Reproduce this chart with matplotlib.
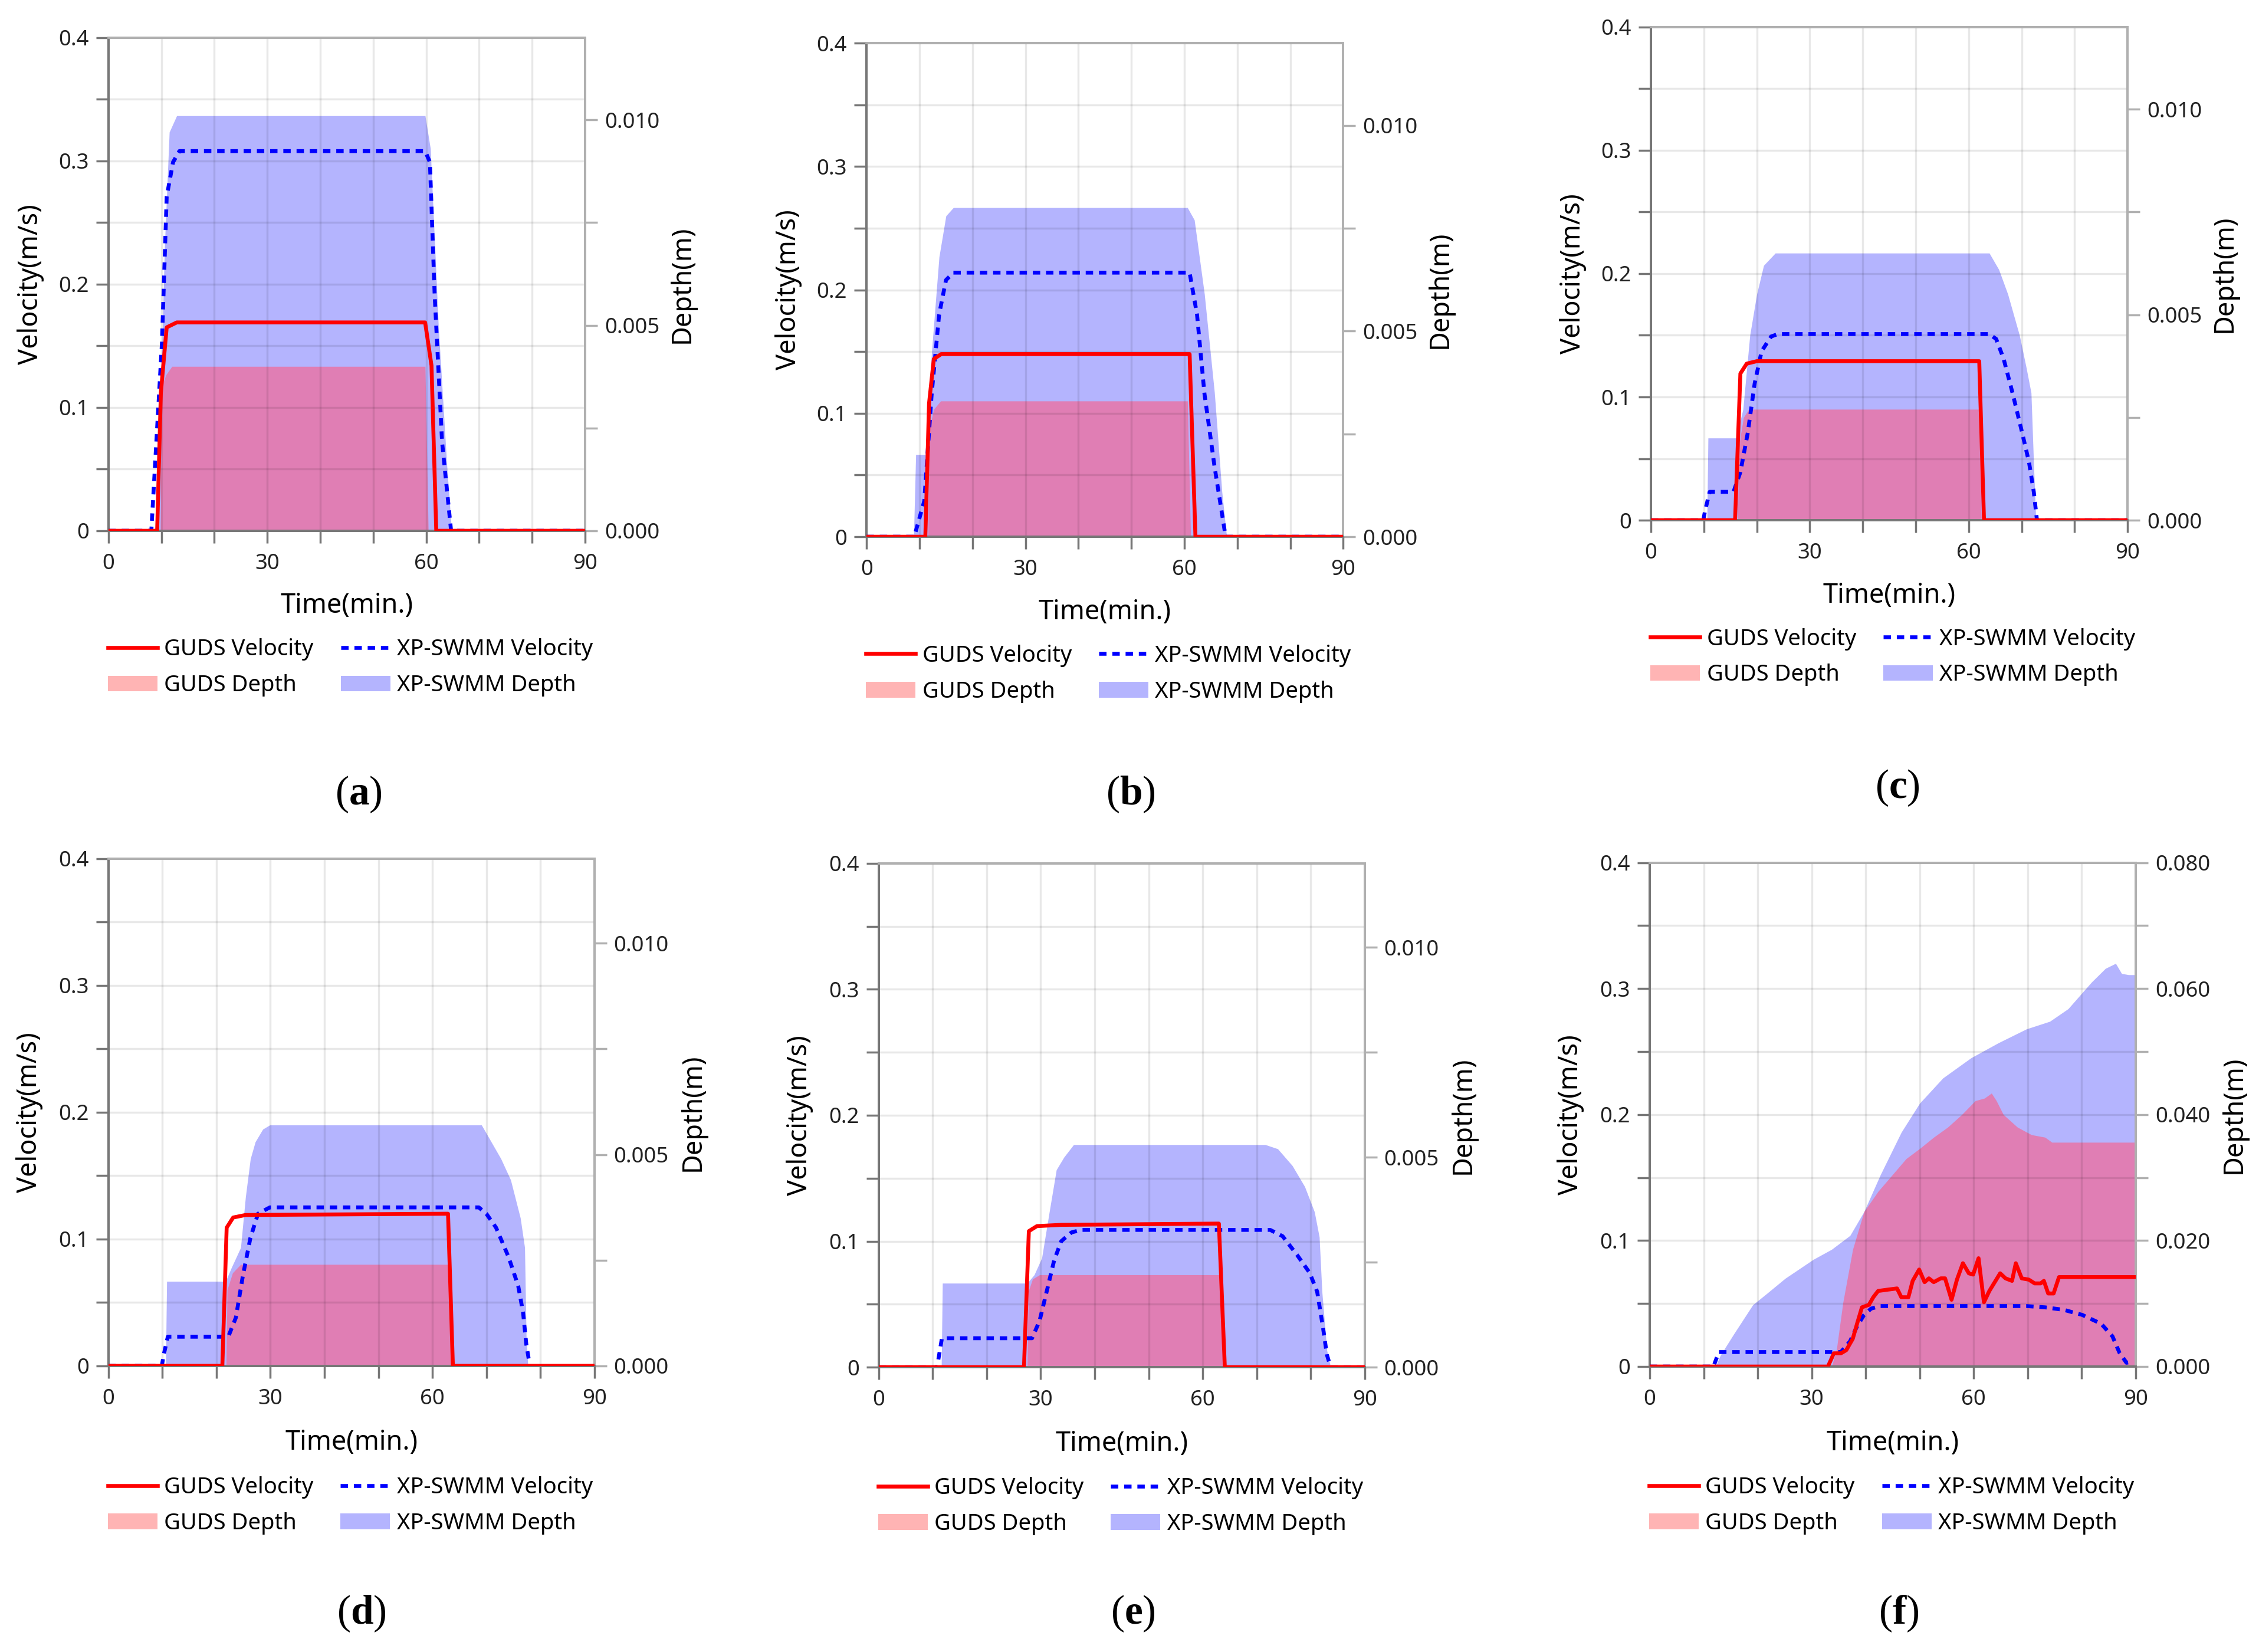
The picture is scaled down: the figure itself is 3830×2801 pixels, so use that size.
import matplotlib
matplotlib.use('Agg')
import matplotlib.pyplot as plt
from matplotlib.ticker import MultipleLocator, FuncFormatter
from matplotlib.lines import Line2D
from matplotlib.patches import Patch

plt.rcParams['font.family'] = ['Noto Sans', 'DejaVu Sans']
plt.rcParams['mathtext.fontset'] = 'custom'
plt.rcParams['mathtext.rm'] = 'Liberation Serif'
plt.rcParams['mathtext.bf'] = 'Liberation Serif:bold'

# ---- data (time in min, velocity in m/s, depth in m) ----
# (a)
a_gv_t = [0, 9.2, 9.9, 11.0, 12.9, 59.8, 61.0, 61.9, 90]
a_gv = [0, 0, 0.112, 0.165, 0.169, 0.169, 0.134, 0, 0]
a_xv_t = [0, 8.1, 10.1, 11.0, 12.2, 13.4, 59.8, 60.7, 61.6, 63.0, 64.7, 90]
a_xv = [0, 0, 0.152, 0.271, 0.299, 0.308, 0.308, 0.299, 0.191, 0.072, 0, 0]
a_gd_t = [0, 9.8, 10.0, 10.9, 12.0, 59.8, 60.4, 90]
a_gd = [0, 0, 0.0035, 0.0038, 0.0040, 0.0040, 0, 0]
a_xd_t = [0, 9.2, 10.6, 11.5, 12.9, 59.8, 60.8, 62.3, 63.9, 64.8, 90]
a_xd = [0, 0, 0.0069, 0.0097, 0.0101, 0.0101, 0.0093, 0.0050, 0.0016, 0, 0]

# (b)
b_gv_t = [0, 11.1, 11.8, 12.7, 14.1, 61.0, 62.1, 90]
b_gv = [0, 0, 0.108, 0.144, 0.148, 0.148, 0, 0]
b_xv_t = [0, 9.0, 10.9, 12.3, 13.7, 15.0, 16.4, 61.0, 62.4, 63.8, 65.7, 67.8, 90]
b_xv = [0, 0, 0.029, 0.116, 0.180, 0.208, 0.214, 0.214, 0.180, 0.116, 0.057, 0, 0]
b_gd_t = [0, 11.6, 11.8, 12.7, 14.0, 60.6, 61.2, 90]
b_gd = [0, 0, 0.0026, 0.0031, 0.0033, 0.0033, 0, 0]
b_xd_t = [0, 8.9, 9.3, 11.1, 12.3, 13.7, 15.0, 16.4, 60.6, 61.9, 63.8, 65.7, 67.1, 68.0, 90]
b_xd = [0, 0, 0.0020, 0.0020, 0.0045, 0.0068, 0.0078, 0.0080, 0.0080, 0.0077,
        0.0059, 0.0035, 0.0011, 0, 0]

# (c)
c_gv_t = [0, 15.9, 16.9, 18.1, 20.0, 62.0, 62.9, 90]
c_gv = [0, 0, 0.119, 0.127, 0.129, 0.129, 0, 0]
c_xv_t = [0, 9.9, 10.2, 11.1, 15.6, 16.9, 18.3, 19.6, 20.9, 22.7, 24.0, 63.9, 65.2,
          66.6, 68.3, 70.1, 71.4, 72.3, 72.9, 90]
c_xv = [0, 0, 0.007, 0.023, 0.023, 0.039, 0.071, 0.111, 0.137, 0.149, 0.151, 0.151,
        0.147, 0.131, 0.103, 0.071, 0.047, 0.023, 0, 0]
c_gd_t = [0, 16.4, 16.6, 17.5, 18.5, 62.0, 62.4, 90]
c_gd = [0, 0, 0.0018, 0.0025, 0.0027, 0.0027, 0, 0]
c_xd_t = [0, 10.6, 10.8, 16.1, 17.4, 18.7, 20.0, 21.3, 23.5, 63.9, 65.7, 67.4, 69.6,
          70.9, 71.8, 72.3, 72.7, 90]
c_xd = [0, 0, 0.0020, 0.0020, 0.0027, 0.0045, 0.0055, 0.0062, 0.0065, 0.0065, 0.0061,
        0.0055, 0.0045, 0.0037, 0.0031, 0.0013, 0, 0]

# (d)
d_gv_t = [0, 21.1, 21.9, 23.1, 25.4, 62.9, 63.8, 90]
d_gv = [0, 0, 0.109, 0.117, 0.119, 0.120, 0, 0]
d_xv_t = [0, 9.9, 10.2, 11.0, 22.2, 23.6, 24.9, 26.3, 27.7, 29.9, 68.6, 70.0, 71.8,
          74.1, 75.9, 76.8, 77.4, 77.9]
d_xv = [0, 0, 0.008, 0.023, 0.023, 0.038, 0.071, 0.101, 0.120, 0.125, 0.125, 0.120,
        0.109, 0.086, 0.063, 0.042, 0.017, 0.004]
d_gd_t = [0, 21.8, 22.0, 23.0, 24.5, 63.1, 63.6, 90]
d_gd = [0, 0, 0.0018, 0.0022, 0.0024, 0.0024, 0, 0]
d_xd_t = [0, 10.6, 10.8, 21.7, 22.7, 24.5, 25.4, 26.3, 27.2, 28.6, 29.9, 69.1, 70.9,
          72.7, 74.5, 76.3, 77.1, 77.4, 77.7, 90]
d_xd = [0, 0, 0.0020, 0.0020, 0.0023, 0.0028, 0.0040, 0.0049, 0.0053, 0.0056, 0.0057,
        0.0057, 0.0053, 0.0049, 0.0044, 0.0035, 0.0028, 0.0006, 0, 0]

# (e)
e_gv_t = [0, 26.9, 27.8, 29.3, 33.8, 63.0, 64.1, 90]
e_gv = [0, 0, 0.108, 0.112, 0.113, 0.114, 0, 0]
e_xv_t = [0, 10.8, 11.7, 28.4, 29.8, 31.1, 32.5, 33.8, 35.7, 37.5, 72.5, 74.8, 77.5,
          79.8, 81.2, 82.3, 83.0, 83.7, 90]
e_xv = [0, 0, 0.023, 0.023, 0.037, 0.060, 0.085, 0.100, 0.107, 0.109, 0.109, 0.104,
        0.089, 0.075, 0.060, 0.031, 0.010, 0, 0]
e_gd_t = [0, 27.5, 27.7, 28.5, 29.8, 63.1, 63.7, 90]
e_gd = [0, 0, 0.0018, 0.0021, 0.0022, 0.0022, 0, 0]
e_xd_t = [0, 11.6, 11.8, 27.5, 28.8, 30.2, 31.6, 32.9, 34.3, 36.1, 38.0, 71.6, 73.9,
          76.6, 78.9, 80.7, 81.6, 82.1, 83.0, 83.7, 90]
e_xd = [0, 0, 0.0020, 0.0020, 0.0022, 0.0026, 0.0037, 0.0047, 0.0050, 0.0053, 0.0053,
        0.0053, 0.0052, 0.0048, 0.0043, 0.0037, 0.0031, 0.0018, 0.0004, 0, 0]

# (f)
f_gv_t = [0, 33.0, 34.1, 35.4, 36.4, 37.6, 38.4, 39.3, 40.6, 41.4, 42.3, 44.0, 45.8,
          46.6, 47.9, 48.7, 49.9, 50.9, 51.7, 52.6, 53.9, 54.7, 55.9, 56.9, 58.0,
          59.1, 59.9, 60.9, 61.9, 62.9, 64.9, 65.9, 67.1, 67.8, 68.9, 70.2, 71.3,
          72.4, 73.0, 73.8, 74.8, 75.8, 90]
f_gv = [0, 0, 0.0105, 0.0105, 0.013, 0.022, 0.034, 0.047, 0.049, 0.055, 0.060, 0.061,
        0.062, 0.055, 0.055, 0.068, 0.077, 0.067, 0.070, 0.067, 0.070, 0.070, 0.053,
        0.069, 0.082, 0.074, 0.073, 0.086, 0.051, 0.060, 0.074, 0.070, 0.068, 0.082,
        0.070, 0.069, 0.066, 0.066, 0.068, 0.058, 0.058, 0.071, 0.071]
f_xv_t = [0, 11.8, 12.8, 35.4, 37.1, 38.4, 39.7, 41.0, 42.7, 69.8, 73.2, 76.7, 80.1,
          83.6, 85.7, 87.0, 88.3, 89.6]
f_xv = [0, 0, 0.0115, 0.0115, 0.020, 0.032, 0.041, 0.046, 0.048, 0.048, 0.047, 0.045,
        0.041, 0.034, 0.024, 0.011, 0.003, 0.004]
f_gd_t = [0, 33.7, 34.6, 35.8, 37.6, 39.7, 42.3, 44.9, 47.5, 50.0, 52.6, 55.2, 57.8,
          60.3, 62.0, 63.3, 64.2, 65.5, 68.1, 70.7, 73.2, 74.5, 90]
f_gd = [0, 0, 0.0027, 0.0102, 0.0186, 0.0246, 0.0278, 0.0304, 0.0330, 0.0346, 0.0364,
        0.0380, 0.0400, 0.0422, 0.0426, 0.0434, 0.0422, 0.0400, 0.0380, 0.0368, 0.0364,
        0.0356, 0.0356]
f_xd_t = [0, 12.2, 13.1, 15.6, 19.1, 21.7, 25.1, 30.3, 33.7, 37.1, 39.7, 42.7, 46.6,
          50.0, 54.3, 59.5, 64.6, 69.8, 74.1, 77.5, 81.8, 84.4, 86.3, 87.4, 88.7, 90]
f_xd = [0, 0, 0.0018, 0.0052, 0.0098, 0.0116, 0.0140, 0.0170, 0.0186, 0.0208, 0.0246,
        0.0304, 0.0372, 0.0418, 0.0458, 0.0490, 0.0514, 0.0536, 0.0548, 0.0568, 0.0610,
        0.0632, 0.0640, 0.0624, 0.0622, 0.0622]

letters = ['a', 'b', 'c', 'd', 'e', 'f']
depth_max = [0.012, 0.012, 0.012, 0.012, 0.012, 0.080]
depth_step = [0.005, 0.005, 0.005, 0.005, 0.005, 0.020]

series = [
    (a_gv_t, a_gv, a_xv_t, a_xv, a_gd_t, a_gd, a_xd_t, a_xd),
    (b_gv_t, b_gv, b_xv_t, b_xv, b_gd_t, b_gd, b_xd_t, b_xd),
    (c_gv_t, c_gv, c_xv_t, c_xv, c_gd_t, c_gd, c_xd_t, c_xd),
    (d_gv_t, d_gv, d_xv_t, d_xv, d_gd_t, d_gd, d_xd_t, d_xd),
    (e_gv_t, e_gv, e_xv_t, e_xv, e_gd_t, e_gd, e_xd_t, e_xd),
    (f_gv_t, f_gv, f_xv_t, f_xv, f_gd_t, f_gd, f_xd_t, f_xd),
]

# ---- layout ----
rects = [
    [0.048, 0.6787, 0.211, 0.2985],
    [0.3836, 0.6751, 0.211, 0.2988],
    [0.7308, 0.6851, 0.211, 0.2985],
    [0.048, 0.1732, 0.2151, 0.3070],
    [0.389, 0.1724, 0.2151, 0.3050],
    [0.7303, 0.1728, 0.2151, 0.3050],
]
sub_pos = [(0.1588, 0.519), (0.5006, 0.519), (0.840, 0.523),
           (0.160, 0.023), (0.5016, 0.023), (0.8405, 0.023)]

RED = '#ff0000'
BLUE = '#0000ff'
XP_FILL = '#b4b4fe'
GUDS_FILL = '#e07eb4'
GUDS_LEG = '#ffb4b4'
DARK = '#777777'
LIGHT = '#b0b0b0'

fig = plt.figure(figsize=(15.32, 11.204), dpi=250)

vel_fmt = FuncFormatter(lambda v, _: '0' if abs(v) < 1e-9 else f'{v:.1f}')
dep_fmt = FuncFormatter(lambda v, _: f'{v:.3f}')

for i, (gv_t, gv, xv_t, xv, gd_t, gd, xd_t, xd) in enumerate(series):
    ax1 = fig.add_axes(rects[i])   # velocity (left) + time
    ax2 = ax1.twinx()              # depth (right)
    ax1.set_zorder(ax2.get_zorder() + 1)
    ax1.patch.set_visible(False)

    # depth fills on the right axis, underneath
    ax2.fill_between(xd_t, xd, 0, color=XP_FILL, lw=0)
    ax2.fill_between(gd_t, gd, 0, color=GUDS_FILL, lw=0)
    ax2.set_ylim(0, depth_max[i])
    ax2.yaxis.set_major_locator(MultipleLocator(depth_step[i]))
    ax2.yaxis.set_minor_locator(MultipleLocator(depth_step[i] / 2))
    ax2.yaxis.set_major_formatter(dep_fmt)
    ax2.set_ylabel('Depth(m)', fontsize=13)
    ax2.yaxis.set_label_coords(1.175, 0.5)

    # velocity lines on the left axis, on top
    ax1.plot(xv_t, xv, color=BLUE, lw=1.9, ls=(0, (1.9, 1.5)), zorder=3)
    ax1.plot(gv_t, gv, color=RED, lw=1.9, zorder=4)
    ax1.set_xlim(0, 90)
    ax1.set_ylim(0, 0.4)
    ax1.xaxis.set_major_locator(MultipleLocator(30))
    ax1.xaxis.set_minor_locator(MultipleLocator(10))
    ax1.yaxis.set_major_locator(MultipleLocator(0.1))
    ax1.yaxis.set_minor_locator(MultipleLocator(0.05))
    ax1.yaxis.set_major_formatter(vel_fmt)
    ax1.grid(True, which='both', color='black', alpha=0.09, lw=1.0)
    ax1.set_axisbelow(True)
    ax1.set_ylabel('Velocity(m/s)', fontsize=13)
    ax1.yaxis.set_label_coords(-0.135, 0.5)
    ax1.set_xlabel('Time(min.)', fontsize=13)
    ax1.xaxis.set_label_coords(0.5, -0.125)

    for ax in (ax1, ax2):
        ax.tick_params(which='both', direction='out', color=DARK, width=1.0,
                       length=6, labelsize=10.5, labelcolor='#222222')
        ax.spines['left'].set_color(DARK)
        ax.spines['bottom'].set_color(DARK)
        ax.spines['top'].set_color(LIGHT)
        ax.spines['right'].set_color(LIGHT)
        for s in ax.spines.values():
            s.set_linewidth(1.1)
    ax1.tick_params(axis='x', which='both', pad=5)
    ax2.tick_params(axis='y', which='both', color=LIGHT)

    handles = [
        Line2D([], [], color=RED, lw=1.9),
        Patch(facecolor=GUDS_LEG, edgecolor='none'),
        Line2D([], [], color=BLUE, lw=1.9, ls=(0, (1.9, 1.5))),
        Patch(facecolor=XP_FILL, edgecolor='none'),
    ]
    labels = ['GUDS Velocity', 'GUDS Depth', 'XP-SWMM Velocity', 'XP-SWMM Depth']
    ax1.legend(handles, labels, ncol=2, loc='upper left',
               bbox_to_anchor=(-0.02, -0.2), frameon=False, fontsize=11,
               handlelength=2.2, handletextpad=0.3, columnspacing=1.2,
               labelspacing=0.6, borderaxespad=0)

    fig.text(sub_pos[i][0], sub_pos[i][1], '(' + r'$\mathbf{' + letters[i] + '}$' + ')',
             ha='center', va='center', fontsize=20, family='Liberation Serif')

fig.savefig('out.png', dpi=250, facecolor='white')
